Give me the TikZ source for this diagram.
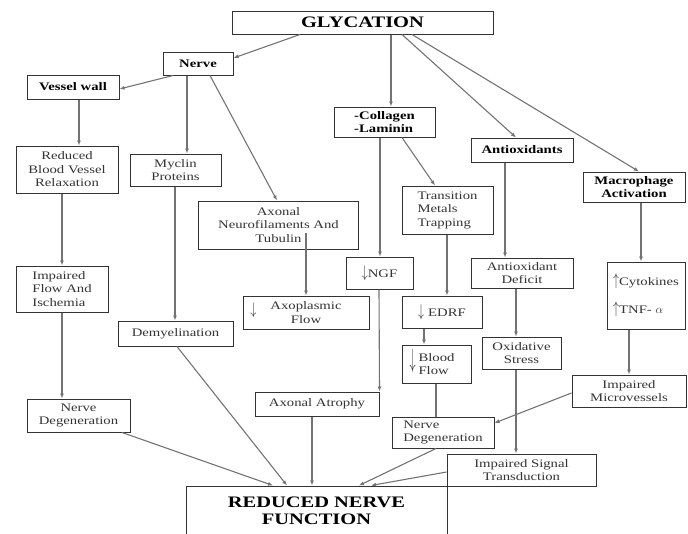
\documentclass[tikz,border=0pt]{standalone}
\usepackage{fontspec}
\setmainfont{Liberation Serif}[FakeStretch=1.28]
\usepackage{graphicx}
\usepackage{tikz}
\usetikzlibrary{arrows.meta}
\definecolor{boxcol}{rgb}{0.2,0.2,0.2}
\definecolor{linecol}{rgb}{0.45,0.45,0.45}
\newcommand{\dnar}[1]{\scalebox{1}[#1]{$\downarrow$}}
\newcommand{\upar}[1]{\scalebox{1}[#1]{$\uparrow$}}

\begin{document}
\begin{tikzpicture}[x=1pt, y=-1pt,
  every node/.style={font=\fontsize{11.5}{13.5}\selectfont, text=black!80},
  box/.style={draw=boxcol, line width=1pt, inner sep=1pt, align=center},
  head/.style={box, font=\fontsize{11.5}{13.5}\selectfont\bfseries, text=black},
  title/.style={box, font=\fontsize{16}{17}\selectfont\bfseries, text=black},
  link/.style={draw=linecol, line width=1.1pt},
  conn/.style={link, -{Latex[length=5pt,width=4pt]}}]

  \useasboundingbox (0,0) rectangle (688,533);
  \clip (0,0) rectangle (688,533);

  % top level
  \node[title, minimum width=261pt, minimum height=23pt] (glyc) at (362.5,22.5) {GLYCATION};
  \node[head, minimum width=70pt, minimum height=23pt] (nerve) at (198,63.5) {Nerve};
  \node[head, minimum width=92pt, minimum height=24pt] (vessel) at (73,87) {Vessel wall};
  \node[head, align=left, minimum width=101pt, minimum height=30pt] (coll) at (384.5,122) {-Collagen\\-Laminin};
  \node[head, minimum width=102pt, minimum height=24pt] (antiox) at (522,150) {Antioxidants};
  \node[head, minimum width=102pt, minimum height=30pt] (macro) at (634,187) {Macrophage\\Activation};

  % middle
  \node[box, minimum width=102pt, minimum height=47pt] (relax) at (67,169.5) {Reduced\\Blood Vessel\\Relaxation};
  \node[box, minimum width=91pt, minimum height=32pt] (myclin) at (175.5,170) {Myclin\\Proteins};
  \node[box, minimum width=160pt, minimum height=48pt] (neurofil) at (278.5,225) {Axonal\\Neurofilaments And\\Tubulin};
  \node[box, align=left, minimum width=91pt, minimum height=48pt] (trans) at (447.5,210) {Transition\\Metals\\Trapping};
  \node[box, minimum width=67pt, minimum height=32pt] (ngf) at (379.5,273) {\dnar{1.4}NGF};
  \node[box, minimum width=102pt, minimum height=30pt] (deficit) at (522,273) {Antioxidant\\Deficit};
  \node[box, align=left, minimum width=78pt, minimum height=67pt] (cyto) at (646,295.5) {\upar{1.4}Cytokines\\[12pt]\upar{1.4}TNF- $\alpha$};
  \node[box, align=left, minimum width=92pt, minimum height=46pt] (flow) at (62,289) {Impaired\\Flow And\\Ischemia};
  \node[box, minimum width=126pt, minimum height=33pt] (axoplas) at (306,312.5) {\llap{\smash{\raisebox{-5pt}{\dnar{1.4}}}\hspace{14pt}}Axoplasmic\\Flow};
  \node[box, minimum width=80pt, minimum height=32pt] (edrf) at (442,312) {\dnar{1.4}\hspace{4pt}EDRF};
  \node[box, minimum width=115pt, minimum height=25pt] (demyel) at (175.5,333.5) {Demyelination};
  \node[box, minimum width=79pt, minimum height=32pt] (oxid) at (521.5,353) {Oxidative\\Stress};
  \node[box, align=left, minimum width=69pt, minimum height=38pt] (blood) at (436.5,364) {\llap{\smash{\raisebox{-6pt}{\dnar{2.2}}}\hspace{3pt}}Blood\\Flow};
  \node[box, minimum width=114pt, minimum height=32pt] (micro) at (629,391) {Impaired\\Microvessels};

  % bottom
  \node[box, minimum width=124pt, minimum height=24pt] (atrophy) at (317,404) {Axonal Atrophy};
  \node[box, minimum width=103pt, minimum height=33pt] (degL) at (78.5,415.5) {Nerve\\Degeneration};
  \node[box, align=left, minimum width=102pt, minimum height=31pt] (degR) at (443,432.5) {Nerve\\Degeneration};
  \node[box, minimum width=149pt, minimum height=32pt] (signal) at (521.5,470) {Impaired Signal\\Transduction};
  \node[title, minimum width=261pt, minimum height=50pt] (reduced) at (316.5,511) {REDUCED NERVE\\FUNCTION};

  % straight down
  \foreach \a/\b/\x in {glyc/coll/391, nerve/myclin/187, vessel/relax/79, relax/flow/62,
      flow/degL/62, myclin/demyel/175, coll/ngf/380, trans/edrf/447, edrf/blood/424,
      antiox/deficit/505, deficit/oxid/516, oxid/signal/516, macro/cyto/641,
      cyto/micro/629, atrophy/reduced/312}
    \draw[conn] (\a.south -| \x,0) -- (\b.north -| \x,0);

  % slanted
  \draw[conn] (glyc.south -| 300,0) -- (nerve.east |- 0,58);
  \draw[conn] (glyc.south -| 402,0) -- (antiox.north -| 516,0);
  \draw[conn] (glyc.south -| 412,0) -- (macro.north -| 639,0);
  \draw[conn] (nerve.south -| 173,0) -- (vessel.east |- 0,89);
  \draw[conn] (nerve.south -| 210,0) -- (neurofil.north -| 277,0);
  \draw[conn] ([yshift=-8pt]neurofil.center -| 306,0) -- (axoplas.north -| 306,0);
  \draw[conn] (coll.south -| 402,0) -- (trans.north -| 435,0);
  \draw[conn] (ngf.south -| 379,0) -- (atrophy.north east);
  \draw[link] (blood.south -| 436,0) -- (degR.north -| 436,0);
  \draw[conn] (micro.west |- 0,393) -- (degR.east |- 0,423);

  % into the result
  \foreach \a/\x/\y in {degL/122/273, demyel/177/287, degR/436/359}
    \draw[conn] (\a.south -| \x,0) -- (reduced.north -| \y,0);
  \draw[conn] (signal.west |- 0,472) -- (reduced.north -| 371,0);
\end{tikzpicture}
\end{document}
